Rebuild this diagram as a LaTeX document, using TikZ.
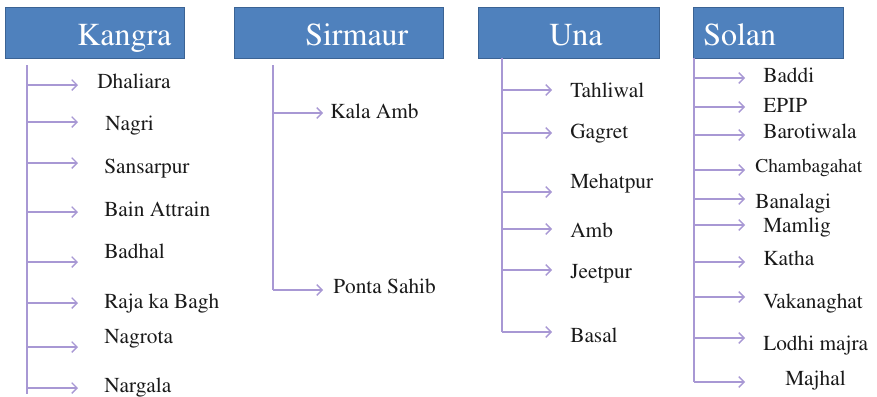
\documentclass[tikz,border=0pt]{standalone}
\usepackage[T1]{fontenc}
\usepackage{mathptmx}
\usetikzlibrary{arrows.meta}
\definecolor{hdrfill}{HTML}{4F81BD}
\definecolor{hdrline}{HTML}{3B6394}
\definecolor{branch}{HTML}{A898D4}
\definecolor{ink}{HTML}{1A1A1A}
\begin{document}
\begin{tikzpicture}[x=0.75pt,y=-0.75pt,
  hdr/.style={draw=hdrline, line width=0.8pt, fill=hdrfill, anchor=north west,
    inner sep=0pt, minimum height=38.25pt},
  hdrtext/.style={anchor=base west, inner sep=0pt, text=white,
    font=\fontsize{24}{24}\selectfont},
  lbl/.style={anchor=base west, inner sep=0pt, text=ink,
    font=\fontsize{16}{16}\selectfont},
  lblsmall/.style={lbl, font=\fontsize{14.6}{14.6}\selectfont},
  trunk/.style={draw=branch, line width=1pt},
  arr/.style={draw=branch, line width=1pt,
    -{Straight Barb[length=4pt,width=8pt]}}]
\useasboundingbox (0,0) rectangle (877,396);

% ---- district header boxes ----
\node[hdr, minimum width=134.25pt] (kangra)  at (5,7)   {};
\node[hdr, minimum width=156.75pt] (sirmaur) at (234,7) {};
\node[hdr, minimum width=135.75pt] (una)     at (478,7) {};
\node[hdr, minimum width=112.5pt]  (solan)   at (693,7) {};
\node[hdrtext] (kangraT)  at (77,45)  {Kangra};
\node[hdrtext] (sirmaurT) at (305,45) {Sirmaur};
\node[hdrtext] (unaT)     at (549,45) {Una};
\node[hdrtext] (solanT)   at (703,45) {Solan};

% ---- trunks ----
\coordinate (kTop) at (27,65);   \coordinate (kBot) at (27,394);
\coordinate (sTop) at (273,65);  \coordinate (sBot) at (273,290);
\coordinate (uTop) at (502,58);  \coordinate (uBot) at (502,332);
\coordinate (oTop) at (694,58);  \coordinate (oBot) at (694,382);
\draw[trunk] (kTop) -- (kBot);
\draw[trunk] (sTop) -- (sBot);
\draw[trunk] (uTop) -- (uBot);
\draw[trunk] (oTop) -- (oBot);

% ---- Kangra ----
\foreach \i/\x/\ya/\yb/\t in {1/97/85/88/Dhaliara, 2/105/122/130/Nagri,
    3/104/163/173/Sansarpur, 4/104/212/216/Bain Attrain, 5/104/262/258/Badhal,
    6/104/303/308/Raja ka Bagh, 7/104/347/343/Nagrota, 8/104/388/392/Nargala} {
  \coordinate (ka\i) at (27,\ya);
  \coordinate (kb\i) at (78,\ya);
  \node[lbl] (k\i) at (\x,\yb) {\t};
  \draw[arr] (ka\i) -- (kb\i);
}

% ---- Sirmaur ----
\foreach \i/\x/\ya/\yb/\t in {1/330/113/118/Kala Amb, 2/333/290/293/Ponta Sahib} {
  \coordinate (sa\i) at (273,\ya);
  \coordinate (sb\i) at (323,\ya);
  \node[lbl] (s\i) at (\x,\yb) {\t};
  \draw[arr] (sa\i) -- (sb\i);
}

% ---- Una ----
\foreach \i/\ya/\yb/\t in {1/90/97/Tahliwal, 2/133/138/Gagret, 3/192/188/Mehatpur,
    4/229/237/Amb, 5/270/278/Jeetpur, 6/332/342/Basal} {
  \coordinate (ua\i) at (502,\ya);
  \coordinate (ub\i) at (552,\ya);
  \node[lbl] (u\i) at (570,\yb) {\t};
  \draw[arr] (ua\i) -- (ub\i);
}

% ---- Solan ----
\foreach \i/\x/\ya/\yb/\t/\s in {1/763/78/82/Baddi/lbl, 2/763/107/112/EPIP/lbl,
    3/763/135/138/Barotiwala/lbl, 4/755/170/172/Chambagahat/lblsmall,
    5/755/199/208/Banalagi/lbl, 6/763/225/232/Mamlig/lbl, 7/763/262/265/Katha/lbl,
    8/763/297/308/Vakanaghat/lbl, 9/763/338/350/Lodhi majra/lbl,
    10/785/382/385/Majhal/lbl} {
  \coordinate (oa\i) at (694,\ya);
  \coordinate (ob\i) at (745,\ya);
  \node[\s] (o\i) at (\x,\yb) {\t};
  \draw[arr] (oa\i) -- (ob\i);
}
\end{tikzpicture}
\end{document}
